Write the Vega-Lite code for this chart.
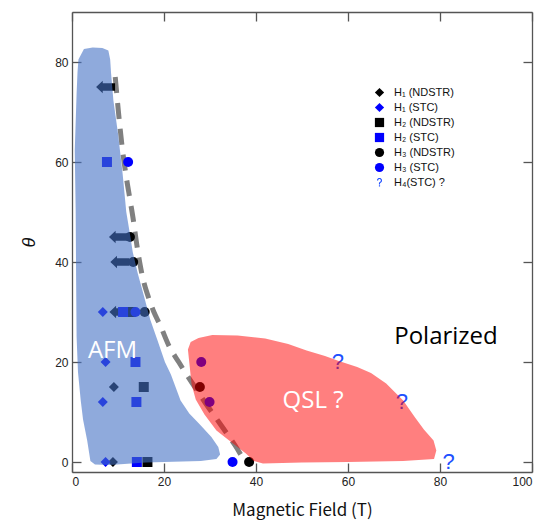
{
  "$schema": "https://vega.github.io/schema/vega-lite/v6.json",
  "width": 460,
  "height": 460,
  "autosize": {"type": "none"},
  "padding": {"left": 72, "top": 12, "right": 13, "bottom": 50},
  "background": "white",
  "config": {
    "font": "Liberation Sans",
    "view": {"stroke": null},
    "axis": {
      "grid": false,
      "domainColor": "#555555",
      "tickColor": "#555555",
      "domainWidth": 1.3,
      "tickWidth": 1.3,
      "labelColor": "#222222",
      "labelFontSize": 12,
      "labelFont": "Liberation Sans",
      "titleColor": "#111111",
      "titleFontWeight": "normal",
      "tickSize": -9,
      "labelPadding": 13
    }
  },
  "datasets": {
    "boundary": [
      {"field": 9.4, "theta": 77}, {"field": 10.1, "theta": 70}, {"field": 10.9, "theta": 63},
      {"field": 11.8, "theta": 57}, {"field": 12.7, "theta": 52}, {"field": 13.4, "theta": 48},
      {"field": 14.0, "theta": 44}, {"field": 14.7, "theta": 40}, {"field": 15.6, "theta": 36},
      {"field": 16.6, "theta": 33}, {"field": 17.8, "theta": 30}, {"field": 19.1, "theta": 27.5},
      {"field": 21.2, "theta": 23}, {"field": 23.2, "theta": 20}, {"field": 24.9, "theta": 17.5},
      {"field": 26.7, "theta": 15}, {"field": 29.0, "theta": 11.8}, {"field": 31.3, "theta": 8.8},
      {"field": 33.6, "theta": 5.8}, {"field": 35.4, "theta": 3.4}, {"field": 37.0, "theta": 1.0}
    ],
    "arrows": [
      {"field": 7.3, "theta": 75},
      {"field": 10.1, "theta": 45},
      {"field": 10.4, "theta": 40},
      {"field": 10.2, "theta": 30}
    ],
    "points": [
      {"series": "H₁ (NDSTR)", "field": 9.1, "theta": 15},
      {"series": "H₁ (NDSTR)", "field": 8.9, "theta": 0},
      {"series": "H₁ (STC)", "field": 6.7, "theta": 30},
      {"series": "H₁ (STC)", "field": 7.3, "theta": 20},
      {"series": "H₁ (STC)", "field": 6.7, "theta": 12},
      {"series": "H₁ (STC)", "field": 7.3, "theta": 0},
      {"series": "H₂ (NDSTR)", "field": 12.8, "theta": 30},
      {"series": "H₂ (NDSTR)", "field": 15.6, "theta": 15},
      {"series": "H₂ (NDSTR)", "field": 16.4, "theta": 0},
      {"series": "H₂ (STC)", "field": 7.6, "theta": 60},
      {"series": "H₂ (STC)", "field": 11.1, "theta": 30},
      {"series": "H₂ (STC)", "field": 13.8, "theta": 20},
      {"series": "H₂ (STC)", "field": 14.0, "theta": 12},
      {"series": "H₂ (STC)", "field": 14.1, "theta": 0},
      {"series": "H₃ (NDSTR)", "field": 12.6, "theta": 45},
      {"series": "H₃ (NDSTR)", "field": 13.3, "theta": 40},
      {"series": "H₃ (NDSTR)", "field": 15.8, "theta": 30},
      {"series": "H₃ (NDSTR)", "field": 27.8, "theta": 15},
      {"series": "H₃ (NDSTR)", "field": 38.5, "theta": 0},
      {"series": "H₃ (STC)", "field": 12.2, "theta": 60},
      {"series": "H₃ (STC)", "field": 13.8, "theta": 30},
      {"series": "H₃ (STC)", "field": 28.1, "theta": 20},
      {"series": "H₃ (STC)", "field": 29.9, "theta": 12},
      {"series": "H₃ (STC)", "field": 34.9, "theta": 0},
      {"series": "H₄(STC) ?", "field": 57.8, "theta": 20},
      {"series": "H₄(STC) ?", "field": 71.7, "theta": 12},
      {"series": "H₄(STC) ?", "field": 81.9, "theta": 0}
    ],
    "afm": [
      {"i": 0, "field": 1.4, "theta": 80.5}, {"i": 1, "field": 2.6, "theta": 82.6},
      {"i": 2, "field": 4.5, "theta": 82.9}, {"i": 3, "field": 6.6, "theta": 82.8},
      {"i": 4, "field": 7.9, "theta": 82.3}, {"i": 5, "field": 8.3, "theta": 80.5},
      {"i": 6, "field": 8.5, "theta": 77.7}, {"i": 7, "field": 9.0, "theta": 72.3},
      {"i": 8, "field": 10.0, "theta": 65.7}, {"i": 9, "field": 11.0, "theta": 57.7},
      {"i": 10, "field": 11.8, "theta": 50}, {"i": 11, "field": 12.7, "theta": 45},
      {"i": 12, "field": 13.2, "theta": 42}, {"i": 13, "field": 14.3, "theta": 37.7},
      {"i": 14, "field": 15.7, "theta": 33}, {"i": 15, "field": 17.0, "theta": 28.5},
      {"i": 16, "field": 18.6, "theta": 24.3}, {"i": 17, "field": 20.2, "theta": 20},
      {"i": 18, "field": 21.5, "theta": 17.5}, {"i": 19, "field": 23.6, "theta": 12.3},
      {"i": 20, "field": 25.5, "theta": 9.7}, {"i": 21, "field": 27.8, "theta": 7.5},
      {"i": 22, "field": 30.3, "theta": 5}, {"i": 23, "field": 31.8, "theta": 3},
      {"i": 24, "field": 32.2, "theta": 1.5}, {"i": 25, "field": 31.4, "theta": 0.6},
      {"i": 26, "field": 28.0, "theta": 0.2}, {"i": 27, "field": 16.0, "theta": -0.1},
      {"i": 28, "field": 8.2, "theta": -0.6}, {"i": 29, "field": 5.0, "theta": -0.5},
      {"i": 30, "field": 4.0, "theta": 0.2}, {"i": 31, "field": 3.3, "theta": 4.3},
      {"i": 32, "field": 2.4, "theta": 8.5}, {"i": 33, "field": 1.9, "theta": 12.3},
      {"i": 34, "field": 1.3, "theta": 18}, {"i": 35, "field": 1.0, "theta": 25},
      {"i": 36, "field": 0.9, "theta": 36}, {"i": 37, "field": 0.8, "theta": 50},
      {"i": 38, "field": 0.6, "theta": 62.3}, {"i": 39, "field": 1.0, "theta": 73.7},
      {"i": 40, "field": 1.2, "theta": 78}
    ],
    "qsl": [
      {"i": 0, "field": 25.2, "theta": 22.5}, {"i": 1, "field": 25.8, "theta": 24.0},
      {"i": 2, "field": 27.5, "theta": 24.8}, {"i": 3, "field": 30.5, "theta": 25.4},
      {"i": 4, "field": 36.0, "theta": 25.3}, {"i": 5, "field": 42.0, "theta": 24.7},
      {"i": 6, "field": 47.0, "theta": 23.6}, {"i": 7, "field": 51.0, "theta": 22.3},
      {"i": 8, "field": 55.0, "theta": 21.2}, {"i": 9, "field": 58.0, "theta": 20.2},
      {"i": 10, "field": 62.0, "theta": 19}, {"i": 11, "field": 65.0, "theta": 17.8},
      {"i": 12, "field": 68.3, "theta": 15.7}, {"i": 13, "field": 72.0, "theta": 12.3},
      {"i": 14, "field": 74.5, "theta": 9}, {"i": 15, "field": 76.5, "theta": 6.5},
      {"i": 16, "field": 78.6, "theta": 4.3}, {"i": 17, "field": 79.2, "theta": 2.3},
      {"i": 18, "field": 78.7, "theta": 0.6}, {"i": 19, "field": 72.0, "theta": 0.2},
      {"i": 20, "field": 60.0, "theta": 0}, {"i": 21, "field": 50.0, "theta": -0.1},
      {"i": 22, "field": 41.5, "theta": -0.3}, {"i": 23, "field": 39.5, "theta": 0.2},
      {"i": 24, "field": 37.8, "theta": 1.7}, {"i": 25, "field": 35.0, "theta": 3.7},
      {"i": 26, "field": 31.4, "theta": 6.3}, {"i": 27, "field": 28.8, "theta": 9.5},
      {"i": 28, "field": 26.9, "theta": 12.5}, {"i": 29, "field": 26.0, "theta": 15.5},
      {"i": 30, "field": 25.6, "theta": 19}
    ],
    "labels": [
      {"label": "AFM", "tone": "light", "field": 8.8, "theta": 22.3},
      {"label": "QSL ?", "tone": "light", "field": 52.4, "theta": 12.3},
      {"label": "Polarized", "tone": "dark", "field": 81.3, "theta": 25.1}
    ]
  },
  "resolve": {"axis": {"x": "independent", "y": "independent"}},
  "layer": [
    {
      "data": {"name": "boundary"},
      "mark": {"type": "line", "color": "#808080", "strokeWidth": 5, "strokeDash": [16, 10], "interpolate": "monotone", "strokeCap": "butt"},
      "encoding": {
        "x": {"field": "field", "type": "quantitative", "scale": {"domain": [0, 100], "nice": false, "zero": false},
              "axis": {"orient": "bottom", "values": [0, 20, 40, 60, 80, 100], "title": "Magnetic Field (T)",
                       "titleFont": "Noto Sans CJK JP", "titleFontSize": 17, "titlePadding": 15}},
        "y": {"field": "theta", "type": "quantitative", "scale": {"domain": [-2, 90], "nice": false, "zero": false},
              "axis": {"orient": "left", "values": [0, 20, 40, 60, 80], "title": "θ",
                       "titleFont": "Liberation Sans", "titleFontStyle": "italic", "titleFontSize": 18, "titlePadding": 16}}
      }
    },
    {
      "data": {"name": "arrows"},
      "mark": {"type": "point", "filled": true, "color": "#000000", "opacity": 1, "size": 361, "strokeWidth": 0,
               "shape": "M -1 0 L -0.3 -0.65 L -0.3 -0.4 L 1 -0.4 L 1 0.4 L -0.3 0.4 L -0.3 0.65 Z"},
      "encoding": {
        "x": {"field": "field", "type": "quantitative", "scale": {"domain": [0, 100], "nice": false, "zero": false}, "axis": null},
        "y": {"field": "theta", "type": "quantitative", "scale": {"domain": [-2, 90], "nice": false, "zero": false}, "axis": null}
      }
    },
    {
      "data": {"name": "points"},
      "transform": [{"filter": "datum.series !== 'H₄(STC) ?'"}],
      "mark": {"type": "point", "filled": true, "opacity": 1, "size": 100, "strokeWidth": 0},
      "encoding": {
        "x": {"field": "field", "type": "quantitative", "scale": {"domain": [0, 100], "nice": false, "zero": false}, "axis": null},
        "y": {"field": "theta", "type": "quantitative", "scale": {"domain": [-2, 90], "nice": false, "zero": false}, "axis": null},
        "shape": {
          "field": "series", "type": "nominal",
          "scale": {
            "domain": ["H₁ (NDSTR)", "H₁ (STC)", "H₂ (NDSTR)", "H₂ (STC)", "H₃ (NDSTR)", "H₃ (STC)", "H₄(STC) ?"],
            "range": ["diamond", "diamond", "square", "square", "circle", "circle",
                      "M -0.55 -0.45 A 0.55 0.55 0 1 1 0.389 -0.061 L 0.12 0.15 L 0.12 0.42 L -0.12 0.42 L -0.12 0.07 L 0.212 -0.238 A 0.3 0.3 0 1 0 -0.3 -0.45 Z M -0.13 0.6 L 0.13 0.6 L 0.13 0.88 L -0.13 0.88 Z"]
          },
          "legend": {"orient": "none", "legendX": 302, "legendY": 75, "title": null, "labelFontSize": 11, "labelFont": "Liberation Sans",
                     "labelColor": "#111111", "symbolSize": 85, "rowPadding": 3, "labelOffset": 9, "padding": 0, "symbolStrokeWidth": 0}
        },
        "color": {
          "field": "series", "type": "nominal",
          "scale": {
            "domain": ["H₁ (NDSTR)", "H₁ (STC)", "H₂ (NDSTR)", "H₂ (STC)", "H₃ (NDSTR)", "H₃ (STC)", "H₄(STC) ?"],
            "range": ["#000000", "#0000ff", "#000000", "#0000ff", "#000000", "#0000ff", "#2050ff"]
          },
          "legend": {"orient": "none", "legendX": 302, "legendY": 75, "title": null, "labelFontSize": 11, "labelFont": "Liberation Sans",
                     "labelColor": "#111111", "symbolSize": 85, "rowPadding": 3, "labelOffset": 9, "padding": 0, "symbolStrokeWidth": 0}
        }
      }
    },
    {
      "data": {"name": "points"},
      "transform": [{"filter": "datum.series === 'H₄(STC) ?'"}],
      "mark": {"type": "text", "text": "?", "font": "Liberation Sans", "fontSize": 22, "color": "#2050ff", "baseline": "middle", "align": "center"},
      "encoding": {
        "x": {"field": "field", "type": "quantitative", "scale": {"domain": [0, 100], "nice": false, "zero": false}, "axis": null},
        "y": {"field": "theta", "type": "quantitative", "scale": {"domain": [-2, 90], "nice": false, "zero": false}, "axis": null}
      }
    },
    {
      "data": {"name": "afm"},
      "mark": {"type": "line", "filled": true, "fill": "#4472c4", "fillOpacity": 0.6, "strokeWidth": 0, "interpolate": "linear-closed"},
      "encoding": {
        "x": {"field": "field", "type": "quantitative", "scale": {"domain": [0, 100], "nice": false, "zero": false}, "axis": null},
        "y": {"field": "theta", "type": "quantitative", "scale": {"domain": [-2, 90], "nice": false, "zero": false}, "axis": null},
        "order": {"field": "i", "type": "quantitative"}
      }
    },
    {
      "data": {"name": "qsl"},
      "mark": {"type": "line", "filled": true, "fill": "#ff0000", "fillOpacity": 0.5, "strokeWidth": 0, "interpolate": "linear-closed"},
      "encoding": {
        "x": {"field": "field", "type": "quantitative", "scale": {"domain": [0, 100], "nice": false, "zero": false}, "axis": null},
        "y": {"field": "theta", "type": "quantitative", "scale": {"domain": [-2, 90], "nice": false, "zero": false}, "axis": null},
        "order": {"field": "i", "type": "quantitative"}
      }
    },
    {
      "data": {"name": "labels"},
      "transform": [{"filter": "datum.tone === 'light'"}],
      "mark": {"type": "text", "font": "Open Sans", "fontSize": 24, "color": "#ffffff", "baseline": "middle", "align": "center"},
      "encoding": {
        "x": {"field": "field", "type": "quantitative", "scale": {"domain": [0, 100], "nice": false, "zero": false}, "axis": null},
        "y": {"field": "theta", "type": "quantitative", "scale": {"domain": [-2, 90], "nice": false, "zero": false}, "axis": null},
        "text": {"field": "label"}
      }
    },
    {
      "data": {"name": "labels"},
      "transform": [{"filter": "datum.tone === 'dark'"}],
      "mark": {"type": "text", "font": "Open Sans", "fontSize": 24, "color": "#000000", "baseline": "middle", "align": "center"},
      "encoding": {
        "x": {"field": "field", "type": "quantitative", "scale": {"domain": [0, 100], "nice": false, "zero": false},
              "axis": {"orient": "top", "values": [0, 20, 40, 60, 80, 100], "labels": false, "title": null}},
        "y": {"field": "theta", "type": "quantitative", "scale": {"domain": [-2, 90], "nice": false, "zero": false},
              "axis": {"orient": "right", "values": [0, 20, 40, 60, 80], "labels": false, "title": null}},
        "text": {"field": "label"}
      }
    }
  ]
}
